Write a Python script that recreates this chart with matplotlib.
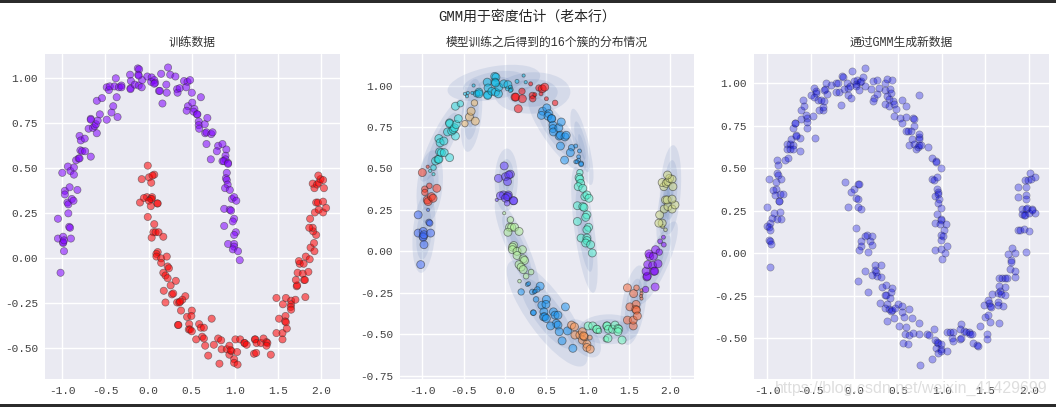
# -*- coding: utf-8 -*-
"""
GMM density estimation: training data, fitted clusters, generated samples
"""

import numpy as np
import matplotlib
matplotlib.use('Agg')
import matplotlib.pyplot as plt
from matplotlib.patches import Ellipse, Rectangle

plt.style.use('seaborn-v0_8')
plt.rcParams['font.family'] = ['Liberation Mono', 'Noto Sans CJK SC']
plt.rcParams['axes.unicode_minus'] = True

# training points, grouped by fitted cluster
cluster_label = [2, 14, 5, 11, 4, 15, 3, 6, 1, 9, 3, 12, 7, 13, 0, 10]
cluster_moon = [0, 0, 0, 0, 0, 0, 0, 0, 1, 1, 1, 1, 1, 1, 1, 1]
cluster_x = [
    [-1.05, -1.05, -.99, -.99, -.99, -.98, -.90, -.98, -1.02, -.92, -.91, -.93],
    [-.94, -.93, -.89, -.87, -.97, -.97, -.915, -.825, -1.0, -.935],
    [-.905, -.865, -.865, -.84, -.81, -.80, -.79, -.77, -.735, -.67, -.80, -.785, -.74, -.60, -.695, -.645, -.625, -.67, -.67, -.61, -.59, -.565, -.60, -.54],
    [-.485, -.43, -.41, -.36, -.37],
    [-.38, -.485, -.46, -.45, -.395, -.345, -.315, -.315, -.21, -.21, -.215, -.205, -.16, -.115, -.08, -.075, -.125, -.11, -.12, -.115, -.015, .035, .03, .065, .075, .065, .145, .225, .25],
    [.12, .13, .16, .205, .21, .31, .33, .335, .36, .41, .45, .48, .435, .50, .605],
    [.455, .44, .505, .53, .52, .56, .565, .58, .58, .585, .65, .68, .655, .67, .725, .74, .67, .72, .805, .855, .79, .90, .89, .89, .855, .87, .92, .92],
    [.905, .895, .905, .915, .885, .94, .965, .99, 1.015, .875, .94, .955, .99, .975, .875, 1.01, .99, .92, .99, .99, .975, 1.035, 1.055],
    [-.01, -.08, .005, .065, .045, .03, -.02, -.055, -.10, .025, .04, .035, .005, .10, .105, .025],
    [-.01, .065, .055, .08, .115, .035, .17, .105, .09, .09, .145, .21, .145, .22, .235, .17, .195, .22, .255, .315, .175],
    [.27, .285, .195, .425, .39, .33, .355, .365, .375, .445, .50, .495, .34, .345, .47, .465, .48, .50, .585, .605, .64, .62, .64, .55, .655, .69, .73, .755, .82],
    [.805, .84, .845, .905, .935, .935, .96, .95, .99, 1.025, .99, 1.03],
    [1.005, 1.06, 1.11, 1.11, 1.135, 1.23, 1.235, 1.25, 1.30, 1.22, 1.245, 1.33, 1.365, 1.375, 1.365, 1.415],
    [1.48, 1.55, 1.55, 1.51, 1.585, 1.58, 1.59, 1.60, 1.48, 1.555, 1.59, 1.65, 1.65, 1.645, 1.65],
    [1.70, 1.815, 1.715, 1.72, 1.705, 1.725, 1.785, 1.80, 1.81, 1.85, 1.75, 1.74, 1.795, 1.82, 1.865, 1.875, 1.92, 1.915],
    [1.94, 1.905, 1.90, 1.86, 1.87, 1.925, 1.97, 2.02, 2.055, 1.94, 1.96, 2.02, 1.92, 1.90, 1.95, 1.97, 1.99, 2.02, 2.03, 1.965],
]
cluster_y = [
    [.22, .11, .12, .09, .085, .10, .11, .04, -.08, .175, .17, .25],
    [.31, .30, .33, .32, .375, .355, .395, .38, .475, .51],
    [.485, .505, .465, .545, .555, .555, .60, .595, .595, .565, .68, .655, .665, .695, .72, .725, .735, .775, .77, .745, .765, .80, .875, .89],
    [.77, .81, .845, .785, .895],
    [1.0, .95, .935, .955, .955, .95, .96, .95, .945, .94, 1.02, .985, .965, .96, .95, .99, 1.055, 1.05, 1.02, 1.015, 1.01, 1.005, .98, .99, .975, .97, 1.025, 1.06, 1.02],
    [.93, .93, .86, .965, .92, 1.01, .94, .92, .945, .985, .98, .99, .95, .92, .895],
    [.845, .82, .865, .83, .815, .80, .80, .76, .74, .72, .745, .78, .695, .70, .69, .70, .635, .55, .625, .635, .595, .605, .57, .55, .54, .54, .53, .525],
    [.475, .445, .435, .41, .39, .38, .33, .34, .32, .275, .27, .265, .22, .205, .18, .145, .13, .08, .08, .065, .05, .04, -.01],
    [.515, .44, .45, .465, .46, .42, .34, .335, .31, .33, .34, .33, .32, .305, .305, .29],
    [.23, .19, .145, .145, .145, .115, .12, .035, .025, .01, 0.0, .01, -.025, -.045, -.055, -.08, -.095, -.11, -.15, -.125, -.18],
    [-.20, -.195, -.245, -.21, -.23, -.245, -.245, -.24, -.29, -.325, -.29, -.32, -.37, -.37, -.365, -.395, -.395, -.405, -.365, -.385, -.385, -.435, -.445, -.45, -.485, -.54, -.335, -.48, -.585],
    [-.445, -.455, -.505, -.505, -.485, -.535, -.515, -.51, -.56, -.52, -.58, -.59],
    [-.45, -.45, -.47, -.47, -.48, -.45, -.45, -.47, -.47, -.53, -.525, -.445, -.465, -.47, -.485, -.535],
    [-.415, -.45, -.415, -.335, -.32, -.35, -.355, -.39, -.22, -.255, -.22, -.235, -.255, -.27, -.285],
    [-.23, -.215, -.155, -.15, -.12, -.08, -.085, -.12, -.12, -.075, -.03, -.015, -.03, .01, -.005, .06, .04, .085],
    [.13, .15, .17, .17, .22, .255, .27, .255, .28, .31, .31, .315, .39, .415, .41, .42, .44, .435, .39, .46],
]
cluster_prob = [
    [1, 1, 1, 1, 1, 1, 1, 1, 1, .8, .8, .4],
    [1, 1, 1, 1, .8, .8, .7, 1, 1, .4],
    [.4, .7, .4, 1, 1, 1, 1, 1, 1, 1, 1, 1, 1, 1, 1, 1, 1, 1, 1, 1, 1, 1, 1, .8],
    [.8, 1, 1, 1, .8],
    [.4, .4, .4, .4, .4, .8, 1, 1, 1, 1, 1, 1, 1, 1, 1, 1, 1, 1, 1, 1, 1, 1, .5, .5, .5, .5, .5, .4, .4],
    [1, 1, 1, .8, 1, .5, .8, .8, .5, .8, 1, 1, .5, .5, .7],
    [1, 1, 1, 1, 1, 1, 1, 1, 1, 1, 1, 1, 1, 1, 1, 1, 1, 1, .8, .5, 1, .5, .5, .5, .5, .5, .6, .6],
    [.8, 1, 1, 1, 1, 1, 1, 1, 1, 1, 1, 1, 1, 1, 1, 1, 1, 1, 1, 1, 1, 1, 1],
    [1, 1, 1, 1, 1, 1, 1, 1, .4, 1, 1, 1, 1, 1, 1, .7],
    [.4, .8, 1, 1, 1, 1, 1, 1, 1, 1, 1, 1, 1, 1, 1, 1, 1, 1, .7, .7, .45],
    [.5, .5, .8, 1, .7, .7, .5, .5, .7, 1, 1, 1, .7, .7, 1, 1, 1, 1, 1, 1, 1, 1, 1, 1, 1, 1, 1, 1, 1],
    [1, 1, 1, 1, 1, 1, 1, 1, 1, .6, 1, 1],
    [1, 1, 1, 1, .7, 1, 1, 1, 1, .7, 1, 1, 1, 1, 1, 1],
    [1, 1, 1, 1, 1, 1, 1, 1, 1, 1, .7, .4, .4, .4, .4],
    [.8, 1, 1, 1, 1, 1, 1, 1, 1, 1, 1, 1, 1, 1, .8, .6, .6, .5],
    [.45, .5, 1, 1, 1, 1, 1, 1, 1, 1, 1, 1, 1, 1, 1, 1, 1, 1, 1, 1],
]

# fitted components: mean, outer half extents, correlation
gmm_x = [-.98, -.91, -.76, -.405, -.135, .33, .63, .93, .96, .015, .145, .51, .95, 1.255, 1.555, 1.84, 2.0, 1.93]
gmm_y = [.11, .39, .67, .82, 1.015, .955, .71, .63, .13, .43, .03, -.375, -.525, -.47, -.325, -.07, .37, .24]
gmm_hx = [.14, .16, .27, .13, .56, .46, .35, .14, .16, .14, .27, .49, .21, .36, .16, .25, .13, .10]
gmm_hy = [.24, .22, .25, .22, .11, .125, .23, .23, .38, .19, .28, .32, .115, .09, .24, .25, .27, .21]
gmm_rho = [.25, .25, .85, .35, .4, .05, -.84, -.75, -.65, .05, -.86, -.8, -.5, 0.0, .45, .82, .25, .5]

# samples drawn from the fitted model
new_x = [-1.0, -1.005, -.97, -.975, -.97, -.98, -.97, -.955, -.965, -.94, -.925, -.85, -.885, -.845, -.865, -.87, -.905, -.93, -.915, -.85, -.815,
         -.975, -.90, -.845, -.89, -.875, -.89, -.875, -.80, -.765, -.77, -.77, -.74, -.745, -.71, -.71, -.73, -.63, -.63, -.675, -.67, -.70, -.68, -.685,
         -.61, -.61, -.575, -.59, -.555, -.54, -.48, -.54, -.55, -.45, -.495, -.46, -.445, -.44, -.465, -.415, -.41, -.36, -.36, -.38, -.345, -.35, -.34,
         -.325, -.31, -.27, -.21, -.19, -.215, -.18, -.145, -.13, -.15, -.125, -.09, -.08, -.08, -.035, -.055, -.025, -.005, .015, .03, .02, .05, .06, .08,
         .10, .125, .125, .185, .215, .26, .225, .215, .26, .285, .355, .375, .425, .345, .405, .415, .37, .39, .355, .40, .44, .455, .48, .45, .54, .595,
         .52, .55, .595, .595, .615, .67, .68, .685, .745, .65, .63, .665, .68, .705, .725, .74, .745, .74, .745, .765, .845, .89, .935, .94, .99, .885,
         .915, .945, .95, .955, .96, .925, .965, .96, .995, .95, .995, .99, .925, 1.045, .975, 1.025, .995, 1.02, .995, 1.065, .925, .99, 1.035, 1.005,
         -.105, -.005, .045, .05, -.045, .015, .035, -.08, .04, .08, .02, .145, .115, .20, .07, .08, .175, .205, .055, .16, .23, .30, .23, .245, .125, .205,
         .255, .30, .045, .16, .31, .36, .345, .36, .425, .42, .405, .295, .375, .35, .40, .42, .435, .47, .50, .545, .63, .55, .565, .455, .375, .505, .595,
         .665, .745, .58, .62, .675, .745, .56, .61, .755, .835, .855, .915, .885, .925, .945, .96, .995, .94, .995, .96, .99, 1.065, 1.06, 1.09, 1.13,
         1.115, 1.135, 1.21, 1.225, 1.22, 1.21, 1.25, 1.28, 1.31, 1.33, 1.345, 1.36, 1.41, 1.42, 1.44, 1.515, 1.515, 1.50, 1.535, 1.555, 1.66, 1.49, 1.535,
         1.54, 1.555, 1.57, 1.575, 1.64, 1.64, 1.645, 1.705, 1.66, 1.665, 1.685, 1.73, 1.655, 1.695, 1.725, 1.75, 1.73, 1.785, 1.835, 1.84, 1.765, 1.81,
         1.835, 1.80, 1.80, 1.97, 1.875, 1.90, 1.945, 2.0, 1.88, 1.88, 1.965, 1.97, 1.925, 1.97, 1.98, 2.04, 2.075, 1.925, 1.945, 1.955, 2.0, 2.04, 1.97,
         1.95, 1.99, 2.01, 2.02, 2.065]
new_y = [.275, .16, .18, .155, .14, .08, .07, .055, -.08, .21, .24, .245, .20, .20, .31, .31, .38, .37, .345, .35, .35,
         .435, .42, .435, .47, .46, .55, .52, .55, .56, .645, .615, .645, .615, .635, .615, .67, .605, .68, .695, .69, .74, .77, .765,
         .79, .845, .87, .905, .815, .795, .81, .74, .775, .68, .93, .975, .955, .945, .92, .90, .845, .845, .86, .905, .895, .96, .97,
         1.005, .935, .99, 1.005, 1.005, .95, .95, 1.045, 1.035, .875, .965, 1.0, .975, .93, .915, .985, 1.075, 1.015, .995, 1.02, .985, .96, 1.01, 1.015,
         1.035, 1.09, .985, .965, 1.015, 1.02, .915, .895, .935, .975, 1.0, 1.025, 1.02, .96, .965, .945, .925, .91, .88, .865, .895, .88, .85, .81, .905, .865,
         .795, .77, .805, .72, .72, .795, .79, .75, .93, .72, .635, .675, .645, .615, .625, .685, .705, .67, .635, .635, .625, .56, .545, .54, .50, .435,
         .43, .45, .38, .36, .35, .335, .32, .295, .265, .23, .205, .195, .18, .175, .17, .14, .11, .10, .08, .045, .02, .025, .005, -.035,
         .42, .38, .41, .41, .36, .325, .32, .27, .275, .26, .15, .11, .105, .10, .07, .045, .07, .05, .02, .01, -.07, -.07, -.095, -.11, -.105, -.125,
         -.135, -.14, -.165, -.225, -.20, -.185, -.245, -.245, -.205, -.23, -.26, -.29, -.295, -.32, -.325, -.34, -.335, -.32, -.30, -.31, -.33, -.345, -.375, -.38, -.395, -.43, -.435,
         -.38, -.41, -.475, -.48, -.47, -.475, -.525, -.535, -.655, -.475, -.48, -.445, -.62, -.51, -.52, -.525, -.535, -.555, -.56, -.585, -.575, -.575, -.46, -.465, -.46,
         -.50, -.515, -.505, -.495, -.415, -.445, -.455, -.46, -.465, -.475, -.475, -.53, -.54, -.545, -.425, -.475, -.505, -.375, -.365, -.405, -.41, -.305, -.275,
         -.29, -.31, -.315, -.24, -.235, -.285, -.305, -.31, -.19, -.22, -.24, -.245, -.145, -.145, -.145, -.145, -.20, -.09, -.14, -.105, -.005, .03,
         .005, -.04, -.05, .01, .135, .135, .145, .13, .33, .39, .345, .32, .26, .26, .265, .26, .24, .23, .225, .225, .235, .255, .39,
         .43, .43, .475, .44, .45]

suptitle = 'GMM用于密度估计（老本行）'
titles = ['训练数据', '模型训练之后得到的16个簇的分布情况', '通过GMM生成新数据']
xticks = [-1.0, -0.5, 0.0, 0.5, 1.0, 1.5, 2.0]
yticks = [-0.75, -0.5, -0.25, 0.0, 0.25, 0.5, 0.75, 1.0]

W, H = 1056, 407
fig = plt.figure(figsize=(W / 100, H / 100), dpi=100, facecolor='white')


def make_ax(left, right, xlim, ylim, ticks_y, title):
    ax = fig.add_axes([left / W, (H - 379) / H, (right - left) / W, 325 / H])
    ax.set_xlim(xlim)
    ax.set_ylim(ylim)
    ax.set_xticks(xticks)
    ax.set_xticklabels(['%.1f' % t for t in xticks])
    ax.set_yticks(ticks_y)
    ax.set_yticklabels(['%.2f' % t for t in ticks_y])
    ax.tick_params(labelsize=8, colors='.25', pad=5)
    ax.grid(True, color='white', lw=1)
    ax.set_title(title, fontsize=8.5, color='.2', pad=6)
    return ax


ax1 = make_ax(45, 340, (-1.2, 2.216), (-0.67, 1.135), yticks[1:], titles[0])
ax2 = make_ax(400, 694, (-1.27, 2.285), (-0.77, 1.19), yticks, titles[1])
ax3 = make_ax(754, 1049, (-1.152, 2.23), (-0.739, 1.173), yticks[1:], titles[2])

all_x = np.concatenate(cluster_x)
all_y = np.concatenate(cluster_y)
moon = np.concatenate([[m] * len(c) for m, c in zip(cluster_moon, cluster_x)])
label = np.concatenate([[l] * len(c) for l, c in zip(cluster_label, cluster_x)])
prob = np.concatenate(cluster_prob)

ax1.scatter(all_x, all_y, c=moon, cmap='rainbow', s=27, alpha=0.55, edgecolors='#333333', linewidths=0.5)

# three nested ellipses for each component
for mx, my, hx, hy, rho in zip(gmm_x, gmm_y, gmm_hx, gmm_hy, gmm_rho):
    cov = np.array([[hx * hx, rho * hx * hy], [rho * hx * hy, hy * hy]]) / 9.0
    u, s, vt = np.linalg.svd(cov)
    angle = np.degrees(np.arctan2(u[1, 0], u[0, 0]))
    width, height = 2 * np.sqrt(s)
    for nsig in range(1, 4):
        ax2.add_patch(Ellipse((mx, my), nsig * width, nsig * height, angle=angle,
                              facecolor='#4c72b0', edgecolor='none', alpha=0.13))

ax2.scatter(all_x, all_y, c=label, cmap='rainbow', vmin=0, vmax=15, s=33 * prob ** 2,
            alpha=0.5, edgecolors='#222222', linewidths=0.6, zorder=3)

ax3.scatter(new_x, new_y, c='#0000e0', s=27, alpha=0.33, edgecolors='#222222', linewidths=0.5)

fig.text(527 / W, 1 - 17 / H, suptitle, ha='center', va='center', fontsize=10, color='.15')
fig.text(1047 / W, 1 - 388 / H, 'https://blog.csdn.net/weixin_41429699', ha='right', va='center',
         fontsize=11.5, family='Liberation Sans', color='#d0d0d0', alpha=0.7)

# dark screenshot borders
fig.add_artist(Rectangle((0, 1 - 3 / H), 1, 3 / H, transform=fig.transFigure, color='#2b2b2b', lw=0))
fig.add_artist(Rectangle((0, 0), 1, 3.5 / H, transform=fig.transFigure, color='#2b2b2b', lw=0))

fig.savefig('out.png', dpi=100)
